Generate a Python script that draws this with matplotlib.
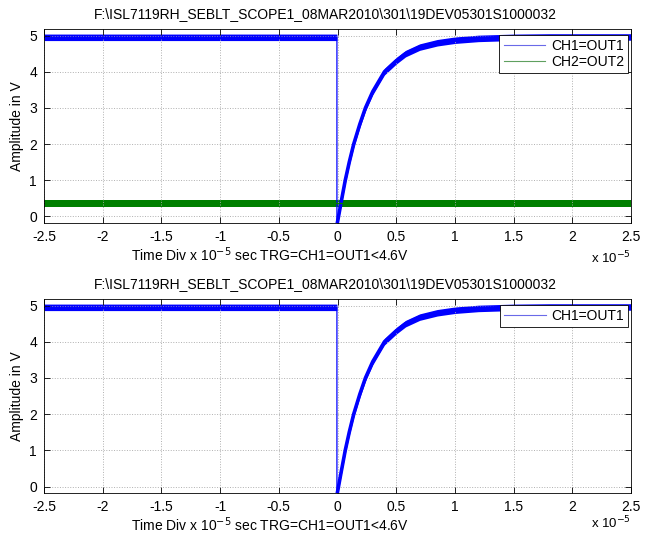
import numpy as np
import matplotlib.pyplot as plt

plt.rcParams["font.family"] = ["Liberation Sans", "DejaVu Sans"]
plt.rcParams["font.size"] = 10

TITLE = r"F:\ISL7119RH_SEBLT_SCOPE1_08MAR2010\301\19DEV05301S1000032"
XLABEL = r"Time Div x 10$^{-5}$ sec TRG=CH1=OUT1<4.6V"

# CH1 trace (time in units of 1e-5 s), centre of the noisy band
t_ch1 = [-2.5, -0.005, -0.005, 0.0, 0.03, 0.066, 0.1, 0.138, 0.19, 0.238, 0.3,
         0.4, 0.5, 0.58, 0.7, 0.85, 1.0, 1.2, 1.5, 1.8, 2.1, 2.5]
v_ch1 = [4.95, 4.95, -0.15, -0.15, 0.38, 1.0, 1.5, 2.0, 2.55, 3.0, 3.45,
         4.0, 4.3, 4.5, 4.68, 4.8, 4.87, 4.92, 4.95, 4.96, 4.96, 4.96]
noise_ch1 = 0.09

# CH2 trace, flat
t_ch2 = [-2.5, 2.5]
v_ch2 = [0.36, 0.36]
noise_ch2 = 0.09

xticks = [-2.5, -2, -1.5, -1, -0.5, 0, 0.5, 1, 1.5, 2, 2.5]
yticks = [0, 1, 2, 3, 4, 5]

BLUE = "#0000ff"
GREEN = "#007f00"


def style_axes(ax, exp_y):
    ax.set_xlim(-2.5, 2.5)
    ax.set_ylim(-0.18, 5.18)
    ax.set_xticks(xticks)
    ax.set_xticklabels([f"{x:g}" for x in xticks])
    ax.set_yticks(yticks)
    ax.grid(True, color="#b0b0b0", linestyle=":", linewidth=0.7)
    ax.tick_params(direction="in", top=True, right=True, length=4, width=0.6,
                   labelsize=10, pad=5)
    for s in ax.spines.values():
        s.set_linewidth(0.6)
    ax.set_title(TITLE, fontsize=10, x=0.479, pad=8)
    ax.set_ylabel("Amplitude in V", fontsize=10, labelpad=4)
    ax.set_xlabel(XLABEL, fontsize=10, labelpad=1)
    ax.xaxis.label.set_x(0.385)
    ax.text(1.0, exp_y, r"x 10$^{-5}$", transform=ax.transAxes,
            ha="right", va="top", fontsize=9.5)


def draw_trace(ax, t, v, noise, color, label):
    t = np.array(t)
    v = np.array(v)
    ax.fill_between(t, v - noise, v + noise, color=color, linewidth=0)
    ax.plot(t, v, color=color, linewidth=0.9, label=label)
    # the rising edge is a thick noisy band, the drop itself a thin line
    if len(t) > 3:
        ax.plot(t[3:], v[3:], color=color, linewidth=2.6)


fig = plt.figure(figsize=(6.49, 5.33), dpi=100)
ax1 = fig.add_axes([0.0678, 0.5816, 0.9045, 0.364])
ax2 = fig.add_axes([0.0678, 0.075, 0.9045, 0.364])

draw_trace(ax1, t_ch1, v_ch1, noise_ch1, BLUE, "CH1=OUT1")
draw_trace(ax1, t_ch2, v_ch2, noise_ch2, GREEN, "CH2=OUT2")
draw_trace(ax2, t_ch1, v_ch1, noise_ch1, BLUE, "CH1=OUT1")

for ax, colors, exp_y in ((ax1, ["#6a6ae8", "#5fa05f"], -0.14),
                          (ax2, ["#6a6ae8"], -0.11)):
    style_axes(ax, exp_y)
    leg = ax.legend(loc="upper right", bbox_to_anchor=(0.995, 0.97),
                    fontsize=10, fancybox=False, framealpha=1,
                    edgecolor="black", handlelength=3, handletextpad=0.4,
                    borderpad=0.3, labelspacing=0.15, borderaxespad=0)
    leg.get_frame().set_linewidth(0.6)
    for h, c in zip(leg.get_lines(), colors):
        h.set_color(c)
        h.set_linewidth(0.8)

fig.savefig("out.png", dpi=100)
